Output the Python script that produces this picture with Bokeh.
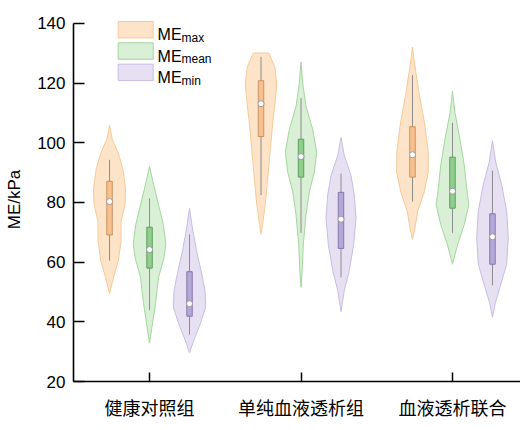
from bokeh.plotting import figure
from bokeh.models import FixedTicker, Label, Range1d
from bokeh.embed import file_html
from bokeh.resources import INLINE

# ---------------- data ----------------
groups = ["健康对照组", "单纯血液透析组", "血液透析联合"]
groups_line2 = ["", "", "血液灌流组"]
series = ["max", "mean", "min"]
series_sub = ["max", "mean", "min"]
y_ticks = [20, 40, 60, 80, 100, 120, 140]

# violin profiles: levels (kPa) and relative half-widths (density)
g1_max_y = [105.9, 101.2, 96.8, 91.3, 84.7, 79.2, 73.7, 67.1, 60.5, 54.9, 49.4]
g1_max_w = [0, 2.7, 8.5, 13.3, 16.0, 15.5, 11.5, 11.5, 8.8, 4.0, 0]
g1_mean_y = [92.1, 85.8, 79.2, 72.6, 66.0, 61.6, 54.9, 46.1, 39.5, 32.9]
g1_mean_w = [0, 4.2, 9.0, 13.8, 16.3, 14.5, 9.0, 6.0, 3.0, 0]
g1_min_y = [78.1, 71.5, 63.8, 57.2, 50.5, 45.0, 39.5, 34.0, 29.6]
g1_min_w = [0, 2.8, 7.0, 11.5, 15.5, 16.2, 11.0, 4.5, 0]

g2_max_y = [130.1, 125.5, 120.0, 114.4, 106.7, 97.9, 88.0, 79.2, 72.6, 69.3]
g2_max_w = [7.7, 13.7, 15.7, 14.3, 11.7, 9.3, 6.7, 4.2, 1.5, 0]
g2_mean_y = [127.1, 120.0, 112.2, 104.5, 96.8, 90.2, 83.6, 75.9, 66.0, 57.2, 51.6]
g2_mean_w = [0, 1.7, 5.0, 11.7, 15.7, 13.3, 8.3, 5.0, 2.3, 1.2, 0]
g2_min_y = [101.8, 95.7, 89.1, 82.5, 74.8, 66.0, 57.2, 50.5, 43.4]
g2_min_w = [0, 3.3, 10.0, 13.3, 15.0, 12.7, 8.3, 3.3, 0]

g3_max_y = [132.1, 125.5, 116.7, 106.7, 96.8, 90.2, 83.6, 77.0, 71.5, 67.6]
g3_max_w = [0, 2.5, 6.5, 12.0, 15.7, 15.8, 11.8, 5.2, 2.5, 0]
g3_mean_y = [117.2, 110.0, 101.2, 92.4, 84.7, 79.2, 72.6, 66.0, 59.3]
g3_mean_w = [0, 2.5, 7.5, 11.8, 14.2, 16.3, 11.8, 5.2, 0]
g3_min_y = [100.7, 93.5, 85.8, 77.0, 68.2, 59.3, 51.6, 46.1, 41.5]
g3_min_w = [0, 3.3, 9.3, 14.2, 15.8, 14.2, 7.5, 2.7, 0]

# box statistics per series, one value per group
max_lo = [60.5, 82.5, 80.3]
max_q1 = [69.1, 102.1, 88.5]
max_med = [80.3, 113.1, 96.0]
max_q3 = [87.1, 120.8, 105.4]
max_hi = [94.3, 128.8, 122.7]

mean_lo = [43.9, 69.8, 69.8]
mean_q1 = [58.0, 88.5, 78.1]
mean_med = [64.2, 95.4, 83.8]
mean_q3 = [71.7, 101.2, 95.2]
mean_hi = [81.4, 115.0, 106.7]

min_lo = [35.7, 54.9, 52.2]
min_q1 = [41.9, 64.6, 59.3]
min_med = [46.1, 74.4, 68.5]
min_q3 = [56.8, 83.4, 76.2]
min_hi = [69.3, 89.7, 90.7]

profiles = {
    (0, "max"): (g1_max_y, g1_max_w), (0, "mean"): (g1_mean_y, g1_mean_w), (0, "min"): (g1_min_y, g1_min_w),
    (1, "max"): (g2_max_y, g2_max_w), (1, "mean"): (g2_mean_y, g2_mean_w), (1, "min"): (g2_min_y, g2_min_w),
    (2, "max"): (g3_max_y, g3_max_w), (2, "mean"): (g3_mean_y, g3_mean_w), (2, "min"): (g3_min_y, g3_min_w),
}
stats = {
    "max": (max_lo, max_q1, max_med, max_q3, max_hi),
    "mean": (mean_lo, mean_q1, mean_med, mean_q3, mean_hi),
    "min": (min_lo, min_q1, min_med, min_q3, min_hi),
}

# ---------------- style ----------------
violin_fill = {"max": "#FDE4C9", "mean": "#D9EFD6", "min": "#E6E0F2"}
violin_line = {"max": "#F7C996", "mean": "#A3D69D", "min": "#C7BDE1"}
box_fill = {"max": "#F7C08C", "mean": "#8FCF8B", "min": "#B4A8D7"}
box_line = {"max": "#C99266", "mean": "#5E9C62", "min": "#8677AD"}
whisker_color = "#8C8C8C"
offsets = {"max": -0.264, "mean": 0.0, "min": 0.264}
W_SCALE = 1.0 / 151.5
BOX_W = 0.036

p = figure(width=520, height=422, output_backend="svg", toolbar_location=None,
           x_range=Range1d(0.498, 3.449), y_range=Range1d(20, 142),
           min_border_left=73, min_border_right=0, min_border_top=17, min_border_bottom=36)
p.outline_line_color = None
p.grid.visible = False
p.background_fill_color = "white"

for gi in range(len(groups)):
    for s in series:
        cx = gi + 1 + offsets[s]
        ys, ws = profiles[(gi, s)]
        xs_r = [cx + w * W_SCALE for w in ws]
        xs_l = [cx - w * W_SCALE for w in ws]
        px = xs_r + xs_l[::-1]
        py = list(ys) + list(ys)[::-1]
        p.patch(px, py, fill_color=violin_fill[s], fill_alpha=1.0,
                line_color=violin_line[s], line_width=1)

for s in series:
    lo, q1, med, q3, hi = stats[s]
    xs = [i + 1 + offsets[s] for i in range(len(groups))]
    p.segment(x0=xs, y0=lo, x1=xs, y1=hi, line_color=whisker_color, line_width=1)
    p.vbar(x=xs, width=BOX_W, bottom=q1, top=q3, fill_color=box_fill[s],
           line_color=box_line[s], line_width=1)
    p.scatter(x=xs, y=med, size=6, marker="circle", fill_color="white",
              line_color="#8C8C8C", line_width=0.8)

# legend (manual, to allow subscripts)
leg_left, leg_right = 0.793, 1.024
leg_top, leg_h, leg_step = 140.66, 5.5, 7.15
for i, s in enumerate(series):
    top = leg_top - i * leg_step
    p.quad(left=leg_left, right=leg_right, top=top, bottom=top - leg_h,
           fill_color=violin_fill[s], line_color=violin_line[s], line_width=1)
    base = top - 4.5
    p.add_layout(Label(x=1.053, y=base, text="ME", text_font="Liberation Sans",
                       text_font_size="16px", text_color="black", text_baseline="alphabetic"))
    p.add_layout(Label(x=1.211, y=base - 1.0, text=series_sub[i], text_font="Liberation Sans",
                       text_font_size="12px", text_color="black", text_baseline="alphabetic"))

# axes
for ax in (p.xaxis, p.yaxis):
    ax.axis_line_width = 1.6
    ax.axis_line_color = "black"
    ax.major_tick_line_color = "black"
    ax.major_tick_line_width = 1.5
    ax.minor_tick_line_color = None
    ax.major_tick_out = 0

p.yaxis.ticker = FixedTicker(ticks=y_ticks)
p.yaxis.bounds = (20, 140)
p.yaxis.major_tick_in = 11
p.yaxis.major_label_text_font = "Liberation Sans"
p.yaxis.major_label_text_font_size = "17px"
p.yaxis.major_label_text_color = "black"
p.yaxis.major_label_standoff = 8
p.yaxis.axis_label = "ME/kPa"
p.yaxis.axis_label_text_font = "Liberation Sans"
p.yaxis.axis_label_text_font_size = "17px"
p.yaxis.axis_label_text_font_style = "normal"
p.yaxis.axis_label_text_color = "black"
p.yaxis.axis_label_standoff = 10

p.xaxis.ticker = FixedTicker(ticks=[1, 2, 3])
p.xaxis.major_label_overrides = {i + 1: g for i, g in enumerate(groups)}
p.xaxis.major_tick_in = 9
p.xaxis.major_label_text_font = "Noto Sans CJK SC"
p.xaxis.major_label_text_font_size = "18px"
p.xaxis.major_label_text_color = "black"
p.xaxis.major_label_standoff = 12

for i, t in enumerate(groups_line2):
    if t:
        p.add_layout(Label(x=i + 1, y=9.3, text=t, text_font="Noto Sans CJK SC",
                           text_font_size="18px", text_color="black",
                           text_align="center", text_baseline="top"))

open("out.html", "w").write(file_html(p, INLINE))
